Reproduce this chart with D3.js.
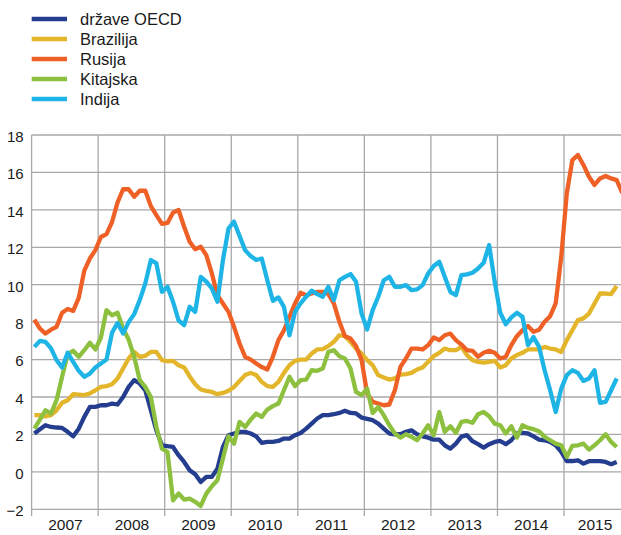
<!DOCTYPE html>
<html><head><meta charset="utf-8">
<script src="https://cdn.jsdelivr.net/npm/d3@7"></script>
<style>
html,body{margin:0;padding:0;background:#fff;}
svg{display:block;font-family:"Liberation Sans",Arial,sans-serif;}
</style></head>
<body><svg id="c" width="621" height="535"></svg>
<script>
const seriesNames = ["države OECD","Brazilija","Rusija","Kitajska","Indija"];
const seriesColors = ["#253d8f","#e3b52a","#ee6026","#8cc03e","#1eb4e6"];
const yearLabels = ["2007","2008","2009","2010","2011","2012","2013","2014","2015"];
const yTicks = [-2,0,2,4,6,8,10,12,14,16,18];

const oecd = [2.05,2.28,2.49,2.4,2.37,2.35,2.14,1.9,2.31,2.94,3.47,3.47,3.56,3.56,3.65,3.6,4.0,4.54,4.9,4.72,4.36,3.29,2.22,1.42,1.37,1.33,0.89,0.53,0.09,-0.13,-0.54,-0.27,-0.27,0.17,1.33,1.96,2.05,2.14,2.14,2.05,1.9,1.55,1.6,1.6,1.65,1.78,1.78,1.96,2.08,2.31,2.58,2.85,3.03,3.03,3.08,3.15,3.26,3.15,3.12,2.9,2.83,2.76,2.58,2.31,2.05,2.01,2.01,2.14,2.22,2.01,1.9,1.83,1.72,1.72,1.42,1.24,1.51,1.88,1.96,1.64,1.48,1.3,1.48,1.6,1.65,1.48,1.69,2.05,2.08,2.05,1.9,1.72,1.69,1.6,1.42,1.07,0.58,0.58,0.62,0.44,0.57,0.57,0.57,0.53,0.41,0.53];
const brazil = [3.03,3.03,2.97,3.03,3.29,3.69,3.83,4.15,4.13,4.1,4.19,4.36,4.54,4.58,4.68,4.99,5.52,6.06,6.41,6.15,6.2,6.41,6.41,5.97,5.91,5.93,5.7,5.58,5.1,4.68,4.4,4.33,4.27,4.15,4.22,4.33,4.54,4.86,5.17,5.29,5.17,4.81,4.58,4.54,4.81,5.29,5.7,5.93,6.0,6.0,6.32,6.54,6.56,6.72,6.95,7.3,7.25,6.95,6.59,6.32,5.97,5.7,5.17,5.04,4.93,4.99,5.2,5.22,5.29,5.47,5.58,5.88,6.18,6.36,6.59,6.5,6.5,6.68,6.24,5.97,5.88,5.84,5.88,5.93,5.58,5.7,6.06,6.24,6.36,6.54,6.54,6.54,6.68,6.59,6.54,6.41,7.04,7.57,8.11,8.2,8.46,9.0,9.53,9.53,9.5,9.93];
const russia = [8.14,7.66,7.39,7.6,7.75,8.5,8.7,8.6,9.3,10.75,11.4,11.85,12.55,12.7,13.35,14.4,15.1,15.1,14.7,15.02,15.02,14.2,13.72,13.25,13.3,13.85,13.99,13.1,12.3,11.9,12.03,11.58,10.6,9.44,9.0,8.55,7.75,6.86,6.15,6.0,5.79,5.6,5.47,6.15,7.04,7.57,8.29,9.0,9.57,9.44,9.53,9.62,9.62,9.5,9.0,8.02,7.25,7.13,6.72,5.97,4.19,3.74,3.65,3.56,3.6,4.36,5.61,6.06,6.59,6.59,6.54,6.77,7.18,7.04,7.3,7.39,7.04,6.8,6.5,6.47,6.15,6.36,6.47,6.36,6.06,6.15,6.77,7.25,7.57,7.79,7.48,7.6,8.02,8.32,9.0,11.49,14.88,16.66,16.93,16.4,15.77,15.33,15.68,15.81,15.68,15.59,14.9];
const china = [2.31,2.79,3.29,3.12,3.83,5.08,6.29,6.47,6.15,6.5,6.9,6.54,7.18,8.64,8.37,8.5,7.66,7.07,6.15,4.9,4.54,4.0,2.4,1.24,1.07,-1.52,-1.16,-1.48,-1.43,-1.6,-1.82,-1.16,-0.77,-0.45,0.71,1.9,1.51,2.67,2.4,2.79,3.12,2.94,3.33,3.51,3.65,4.36,5.08,4.58,4.9,4.93,5.43,5.4,5.52,6.41,6.5,6.18,6.06,5.52,4.27,4.1,4.45,3.15,3.47,3.03,2.49,2.05,1.83,2.01,1.87,1.69,2.05,2.49,1.96,3.2,2.14,2.44,2.08,2.67,2.72,2.62,3.08,3.2,2.97,2.58,2.49,2.05,2.44,1.83,2.49,2.35,2.28,2.17,1.87,1.69,1.51,1.42,0.8,1.39,1.42,1.51,1.19,1.42,1.69,2.01,1.6,1.33];
const india = [6.68,7.0,6.95,6.6,5.97,5.58,6.36,5.88,5.4,5.08,5.25,5.58,5.79,6.0,7.43,7.96,7.4,8.0,8.43,9.18,10.07,11.32,11.14,9.62,9.89,9.09,8.1,7.84,8.82,8.55,10.42,10.16,9.8,9.09,11.32,13.0,13.37,12.6,11.85,11.53,11.32,11.4,10.24,9.14,9.32,8.82,7.3,8.55,9.0,9.36,9.68,9.5,9.36,9.89,9.18,10.24,10.42,10.57,10.16,8.46,7.61,8.64,9.36,10.24,10.42,9.89,9.89,9.98,9.71,9.75,9.98,10.6,11.0,11.23,10.42,9.62,9.44,10.51,10.55,10.64,10.87,11.17,12.12,10.16,8.5,7.89,8.25,8.5,8.29,6.77,7.21,6.68,5.43,4.36,3.2,4.45,5.17,5.43,5.29,4.86,4.99,5.43,3.69,3.74,4.36,4.99];

const allSeries = [oecd, brazil, russia, china, india];

const svg = d3.select("#c");
const x0 = 31.6, monthW = 5.546;
const x = d3.scaleLinear().domain([0, 107]).range([x0, x0 + 107*monthW]);
const y = d3.scaleLinear().domain([-2, 18]).range([509.3, 135]);
const rightEdge = 621;
const grid = "#a8a8a8";

// horizontal gridlines
svg.append("g").selectAll("line").data(yTicks).join("line")
  .attr("x1", x0).attr("x2", rightEdge)
  .attr("y1", d => y(d)).attr("y2", d => y(d))
  .attr("stroke", grid).attr("stroke-width", 1.3);

// vertical gridlines at year boundaries (extending below as ticks)
const yearStarts = yearLabels.map((d, i) => i * 12);
svg.append("g").selectAll("line").data(yearStarts).join("line")
  .attr("x1", d => x(d)).attr("x2", d => x(d))
  .attr("y1", y(18)).attr("y2", 516)
  .attr("stroke", grid).attr("stroke-width", 1.3);

// y axis labels
const yAxis = d3.axisLeft(y).tickValues(yTicks).tickSize(0).tickPadding(0).tickFormat(d3.format("d"));
const ga = svg.append("g").attr("transform", `translate(${x0 - 8},0)`).call(yAxis);
ga.select(".domain").remove();
ga.selectAll("text").attr("font-size", 15).attr("fill", "#1a1a1a").attr("dy", "0.42em")
  .style("font-family", '"Liberation Sans", Arial, sans-serif');

// x axis year labels centered in year intervals
const mids = yearLabels.map((d, i) => Math.min(i * 12 + 6, (i * 12 + 107) / 2));
const xAxis = d3.axisBottom(x).tickValues(mids).tickSize(0).tickPadding(0)
  .tickFormat((d, i) => yearLabels[i]);
const gx = svg.append("g").attr("transform", `translate(0,519)`).call(xAxis);
gx.select(".domain").remove();
gx.selectAll("text").attr("font-size", 15.5).attr("fill", "#1a1a1a").attr("dy", "0.72em")
  .style("font-family", '"Liberation Sans", Arial, sans-serif');

// lines
const line = d3.line().x((d, i) => x(i + 0.5)).y(d => y(d));
svg.append("g").selectAll("path").data(allSeries).join("path")
  .attr("d", d => line(d))
  .attr("fill", "none")
  .attr("stroke", (d, i) => seriesColors[i])
  .attr("stroke-width", 4.3)
  .attr("stroke-linejoin", "round")
  .attr("stroke-linecap", "butt");

// legend
const lg = svg.append("g").selectAll("g").data(seriesNames).join("g")
  .attr("transform", (d, i) => `translate(0,${19 + i * 20})`);
lg.append("line").attr("x1", 31.7).attr("x2", 67).attr("y1", 0).attr("y2", 0)
  .attr("stroke", (d, i) => seriesColors[i]).attr("stroke-width", 4.3);
lg.append("text").attr("x", 80).attr("y", 0).attr("dy", "0.36em")
  .attr("font-size", 16.5).attr("fill", "#1a1a1a").text(d => d);
</script></body></html>
